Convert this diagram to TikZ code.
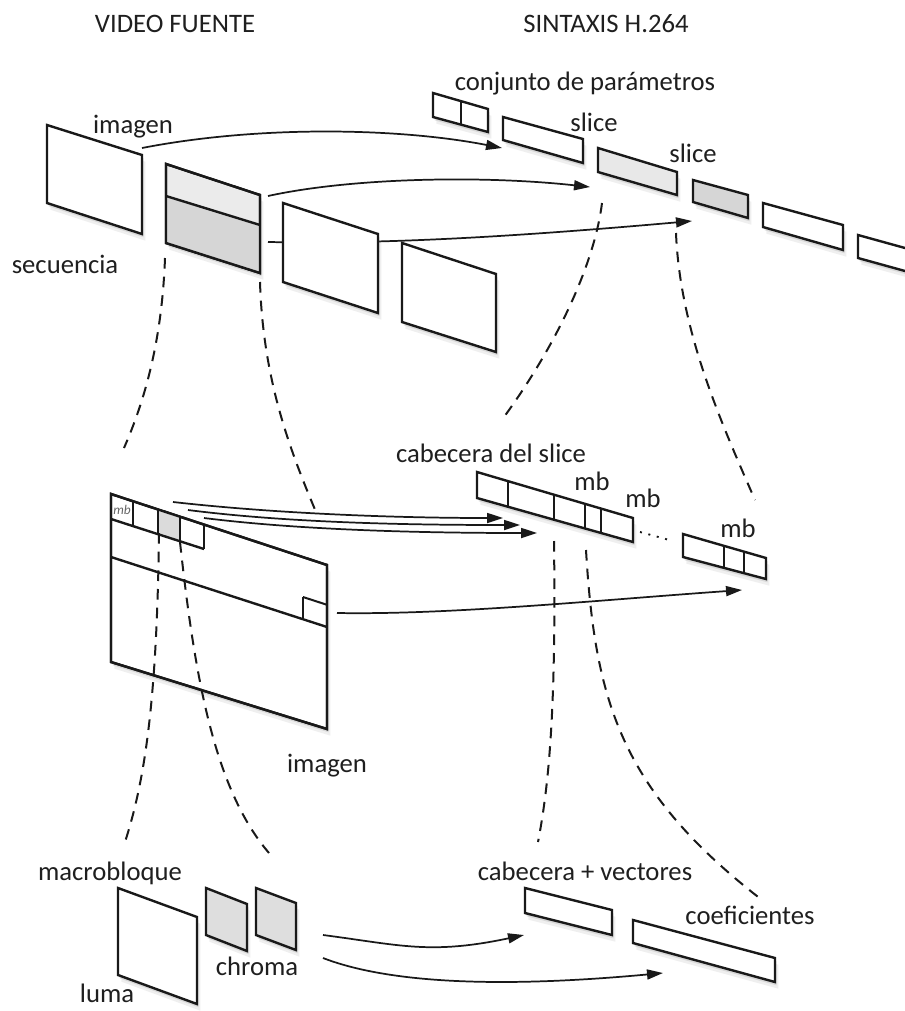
\documentclass[tikz,border=0pt]{standalone}
\usepackage{fontspec}
\setmainfont{Carlito}
\usetikzlibrary{arrows.meta,shadows}
\begin{document}
\begin{tikzpicture}[x=0.75pt,y=-0.75pt,
  box/.style={draw=black!90, line width=1.8pt, fill=white, line join=miter,
     drop shadow={shadow xshift=2.5pt, shadow yshift=-5pt, opacity=0.12},
     drop shadow={shadow xshift=1.2pt, shadow yshift=-2.5pt, opacity=0.2}},
  edge/.style={draw=black!90, line width=1.8pt},
  thin/.style={draw=black!90, line width=1.5pt},
  conn/.style={draw=black!90, line width=1.3pt, -{Triangle[length=12pt,width=7.5pt]}},
  dsh/.style={draw=black!90, line width=1.5pt, dash pattern=on 8pt off 6pt},
  dots/.style={draw=black!90, line width=1.4pt, dash pattern=on 1.5pt off 5pt},
  lbl/.style={font=\fontsize{20}{24}\selectfont, text=black!88, inner sep=0pt, anchor=base},
]
\fill[white] (0,0) rectangle (905,1011);

% ---------- titles ----------
\node[lbl] (t1) at (175,32) {VIDEO FUENTE};
\node[lbl] (t2) at (606,32) {SINTAXIS H.264};

% ---------- top arrows (behind the frames) ----------
\coordinate (a1s) at (142,148); \coordinate (a1e) at (502,148);
\coordinate (a2s) at (268,196); \coordinate (a2e) at (590,187);
\coordinate (a3s) at (268,242); \coordinate (a3e) at (692,221);
\draw[conn] (a1s) .. controls (260,125) and (400,128) .. (a1e);
\draw[conn] (a2s) .. controls (350,178) and (480,175) .. (a2e);
\draw[conn] (a3s) .. controls (380,244) and (500,238) .. (a3e);

% ---------- source video frames ----------
\path[box] (47,125) -- (142,155) -- (142,234) -- (47,203) -- cycle;
\path[box, fill=black!8] (166,164) -- (260,195) -- (260,273) -- (166,243) -- cycle;
\fill[black!16] (166,196) -- (260,225) -- (260,273) -- (166,243) -- cycle;
\draw[edge] (166,164) -- (260,195) -- (260,273) -- (166,243) -- cycle;
\draw[edge] (166,196) -- (260,225);
\path[box] (283,203) -- (378,234) -- (378,313) -- (283,282) -- cycle;
\path[box] (402,243) -- (496,274) -- (496,352) -- (402,322) -- cycle;

\node[lbl] (limg) at (133,133) {imagen};
\node[lbl] (lsec) at (65,273) {secuencia};

% ---------- H.264 syntax row ----------
\path[box] (433,93) -- (488,109) -- (488,132) -- (433,117) -- cycle;
\draw[thin] (461,101) -- (461,124.6);
\path[box] (503,117) -- (583,139) -- (583,163) -- (503,140) -- cycle;
\path[box, fill=black!9] (598,148) -- (677,172) -- (677,195) -- (598,172) -- cycle;
\path[box, fill=black!16] (693,180) -- (748,195) -- (748,218) -- (693,202) -- cycle;
\path[box] (763,203) -- (843,225) -- (843,250) -- (763,227) -- cycle;
\path[box] (858,235) -- (943,258.5) -- (943,281.5) -- (858,258) -- cycle;

\node[lbl] (lpar) at (585,90) {conjunto de parámetros};
\node[lbl] (ls1) at (594,131) {slice};
\node[lbl] (ls2) at (693,162) {slice};

% ---------- dashed expansions (top) ----------
\draw[dsh] (165,258) .. controls (162,340) and (145,400) .. (124,448);
\draw[dsh] (260,282) .. controls (263,380) and (290,450) .. (316,512);
\draw[dsh] (602,203) .. controls (595,260) and (560,340) .. (504,417);
\draw[dsh] (676,233) .. controls (680,330) and (720,420) .. (755,500);

% ---------- middle picture ----------
\path[box] (111,494) -- (327,565) -- (327,729) -- (111,662) -- cycle;
\fill[black!14] (158,509.5) -- (180,516.7) -- (180,541.3) -- (158,534.2) -- cycle;
\draw[edge] (111,519) -- (204,549);
\draw[thin] (133,501.2) -- (133,526.1);
\draw[thin] (158,509.5) -- (158,534.2);
\draw[thin] (180,516.7) -- (180,541.3);
\draw[thin] (204,524.6) -- (204,549);
\draw[edge] (111,557) -- (327,627);
\draw[thin] (303,597) -- (303,619.2);
\draw[thin] (303,597) -- (327,604.8);
\node[font=\fontsize{10}{11}\selectfont\itshape, text=black!60, inner sep=0pt] (lmbs) at (122,510) {mb};
\draw[edge] (111,494) -- (327,565) -- (327,729) -- (111,662) -- cycle;

\node[lbl] (limg2) at (327,772) {imagen};

% ---------- slice header and macroblocks ----------
\path[box] (477,472) -- (633,518) -- (633,542) -- (477,498) -- cycle;
\draw[thin] (508,481.1) -- (508,506.7);
\draw[thin] (554,494.7) -- (554,519.7);
\draw[thin] (585,503.9) -- (585,528.5);
\draw[thin] (601,508.6) -- (601,533.0);
\draw[dots] (640,532) -- (673,541);
\path[box] (683,534) -- (766,558) -- (766,579) -- (683,557) -- cycle;
\draw[thin] (724,545.9) -- (724,567.4);
\draw[thin] (744,551.6) -- (744,572.4);

\node[lbl] (lcab) at (491,462) {cabecera del slice};
\node[lbl] (lmb1) at (592,490) {mb};
\node[lbl] (lmb2) at (643,507) {mb};
\node[lbl] (lmb3) at (738,537) {mb};

% ---------- middle arrows ----------
\coordinate (m1s) at (173,502); \coordinate (m1e) at (503,518);
\coordinate (m2s) at (188,510); \coordinate (m2e) at (520,525);
\coordinate (m3s) at (204,518); \coordinate (m3e) at (537,533);
\coordinate (m4s) at (337,613); \coordinate (m4e) at (742,590);
\draw[conn] (m1s) .. controls (280,514) and (400,518) .. (m1e);
\draw[conn] (m2s) .. controls (290,523) and (410,525) .. (m2e);
\draw[conn] (m3s) .. controls (300,530) and (420,533) .. (m3e);
\draw[conn] (m4s) .. controls (450,615) and (600,600) .. (m4e);

% ---------- dashed expansions (lower) ----------
\draw[dsh] (159,533) .. controls (157,700) and (145,780) .. (125,842);
\draw[dsh] (180,542) .. controls (195,680) and (215,790) .. (269,853);
\draw[dsh] (554,541) .. controls (556,700) and (550,780) .. (538,842);
\draw[dsh] (586,550) .. controls (595,700) and (620,790) .. (762,900);

% ---------- macroblock ----------
\path[box] (118,888) -- (197,917) -- (197,1004) -- (118,975) -- cycle;
\path[box, fill=black!13] (206,888) -- (247,904) -- (247,951) -- (206,935) -- cycle;
\path[box, fill=black!13] (256,888) -- (296,903) -- (296,950) -- (256,935) -- cycle;
\node[lbl] (lmacro) at (110,880) {macrobloque};
\node[lbl] (lchroma) at (257,975) {chroma};
\node[lbl] (lluma) at (107,1002) {luma};

% ---------- macroblock syntax ----------
\path[box] (525,888) -- (612,910) -- (612,935) -- (525,913) -- cycle;
\path[box] (633,920) -- (775,958) -- (775,982) -- (633,943) -- cycle;
\node[lbl] (lcv) at (585,880) {cabecera + vectores};
\node[lbl] (lcoef) at (750,924) {coeficientes};

\coordinate (b1s) at (323,935); \coordinate (b1e) at (524,935);
\coordinate (b2s) at (323,958); \coordinate (b2e) at (663,973);
\draw[conn] (b1s) .. controls (400,945) and (430,955) .. (b1e);
\draw[conn] (b2s) .. controls (380,980) and (480,990) .. (b2e);

\pgfresetboundingbox
\useasboundingbox (0,0) rectangle (905,1011);
\end{tikzpicture}
\end{document}
